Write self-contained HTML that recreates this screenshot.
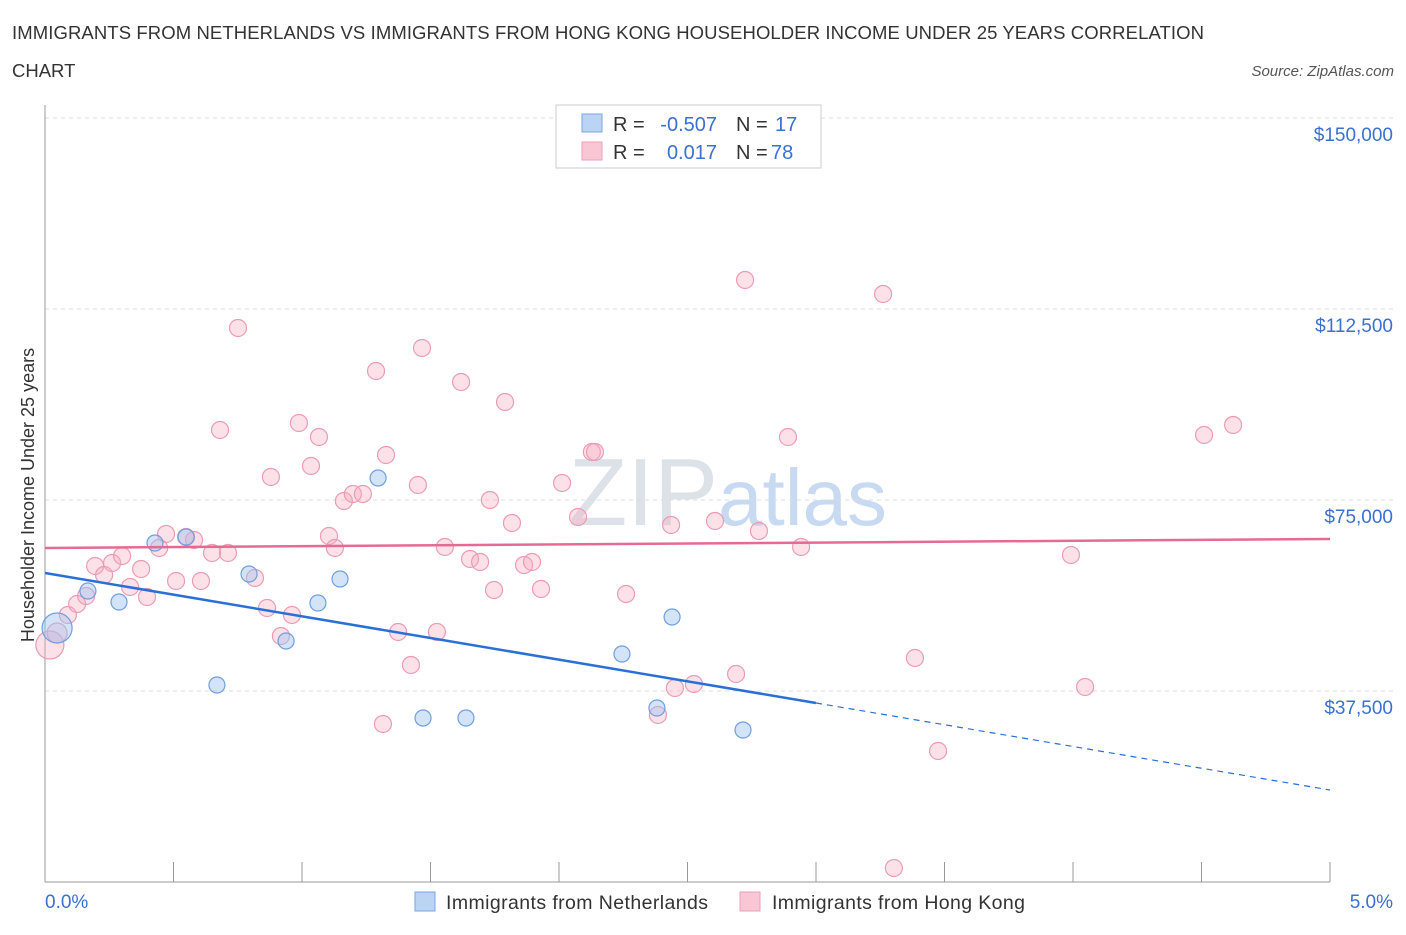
<!DOCTYPE html>
<html><head><meta charset="utf-8"><style>
body{margin:0;background:#fff;font-family:"Liberation Sans",sans-serif;}
svg text{font-family:"Liberation Sans",sans-serif;}
</style></head><body>
<svg width="1406" height="930" xmlns="http://www.w3.org/2000/svg">
<text x="12" y="39" font-size="18.5" fill="#333" textLength="1192">IMMIGRANTS FROM NETHERLANDS VS IMMIGRANTS FROM HONG KONG HOUSEHOLDER INCOME UNDER 25 YEARS CORRELATION</text>
<text x="12" y="77" font-size="18.5" fill="#333">CHART</text>
<text x="1394" y="76" font-size="15" fill="#555" font-style="italic" text-anchor="end">Source: ZipAtlas.com</text>
<text x="718" y="525" font-size="96" fill="#dde1e8" text-anchor="end" font-family="Liberation Serif">ZIP</text>
<text x="718" y="525" font-size="80" fill="#c8daf2">atlas</text>
<g id="grid"></g>
<g id="axes"></g>
<g id="marks"></g>
<g>
<rect x="556" y="105" width="265" height="63" fill="#fff" stroke="#ccc"/>
<rect x="582" y="114" width="20" height="18" fill="#bcd4f4" stroke="#7aa6e3"/>
<rect x="582" y="142" width="20" height="18" fill="#f8c6d4" stroke="#eba0b7"/>
<text x="613" y="131" font-size="20" fill="#333">R =</text>
<text x="717" y="131" font-size="20" fill="#3a70d0" text-anchor="end">-0.507</text>
<text x="736" y="131" font-size="20" fill="#333">N =</text>
<text x="775" y="131" font-size="20" fill="#3a70d0">17</text>
<text x="613" y="159" font-size="20" fill="#333">R =</text>
<text x="717" y="159" font-size="20" fill="#3a70d0" text-anchor="end">0.017</text>
<text x="736" y="159" font-size="20" fill="#333">N =</text>
<text x="771" y="159" font-size="20" fill="#3a70d0">78</text>
</g>
<g>
<rect x="415" y="892" width="20" height="19" fill="#bcd4f4" stroke="#7aa6e3"/>
<text x="446" y="909" font-size="19.5" fill="#333" textLength="262">Immigrants from Netherlands</text>
<rect x="740" y="892" width="20" height="19" fill="#f8c6d4" stroke="#eba0b7"/>
<text x="772" y="909" font-size="19.5" fill="#333" textLength="253">Immigrants from Hong Kong</text>
</g>
<text x="34" y="495" font-size="18" fill="#333" text-anchor="middle" transform="rotate(-90 34 495)">Householder Income Under 25 years</text>
</svg>
<script>
const yTicks=[37500,75000,112500,150000];
const yTickLabels=["$37,500","$75,000","$112,500","$150,000"];
const xTickLabels=["0.0%","5.0%"];
const blueX=[0.047,0.167,0.288,0.428,0.549,0.669,0.794,0.938,1.062,1.148,1.296,1.471,1.638,2.245,2.440,2.381,2.716];
const blueY=[49870,57135,54975,66560,67737,38679,60473,47318,54779,59491,79321,32200,32200,44766,52030,34163,29844];
const blueR=[15,8,8,8,8,8,8,8,8,8,8,8,8,8,8,8,8];
const pinkX=[0.019,0.047,0.089,0.125,0.160,0.195,0.230,0.261,0.300,0.331,0.374,0.397,0.444,0.471,0.510,0.549,0.580,0.607,0.650,0.681,0.712,0.751,0.817,0.864,0.879,0.918,0.961,0.988,1.035,1.066,1.105,1.128,1.163,1.198,1.237,1.288,1.327,1.374,1.315,1.424,1.451,1.467,1.525,1.556,1.619,1.654,1.693,1.731,1.747,1.790,1.817,1.864,1.895,1.930,2.012,2.074,2.128,2.140,2.261,2.385,2.436,2.451,2.525,2.607,2.689,2.724,2.778,2.891,2.942,3.261,3.303,3.385,3.475,3.992,4.047,4.510,4.623];
const pinkY=[46533,48889,52423,54583,56153,62043,60276,62632,64007,57920,61454,55957,65578,68326,59098,67737,67148,59098,64596,88746,64596,108772,59687,53797,79518,48300,52423,90120,81677,87371,67934,65578,74806,76180,76180,100330,83837,49085,31022,42606,77947,104846,49085,65774,98170,63418,62829,75002,57331,94243,70486,62240,62829,57528,78340,71664,84426,84426,56546,32789,70093,38090,38875,70879,40839,118197,68915,87371,65774,115448,2749,43980,25721,64203,38286,87764,89727];
const pinkR=[14,10];
const blueTrendX=[0,3.0,5];
const blueTrendY=[60669,35145,18063];
const pinkTrendX=[0,5];
const pinkTrendY=[65578,67345];

const NS="http://www.w3.org/2000/svg";
const X0=45,X1=1330,Y0=882,Y1=118;
const xs=v=>X0+(v/5)*(X1-X0);
const ys=v=>Y0-(v/150000)*(Y0-Y1);
function mk(tag,attrs,parent){const e=document.createElementNS(NS,tag);for(const k in attrs)e.setAttribute(k,attrs[k]);document.getElementById(parent).appendChild(e);return e;}
yTicks.forEach((t,i)=>{
  const g=mk('line',{x1:X0,x2:1395,y1:ys(t),y2:ys(t),stroke:'#ddd','stroke-dasharray':'4,4'},'grid');
  
  
  const tx=mk('text',{x:1393,y:ys(t)+23,'font-size':19,fill:'#3a70d0','text-anchor':'end'},'axes');
  tx.textContent=yTickLabels[i];
  
  
});
const ax=mk('line',{x1:X0,x2:X0,y1:105,y2:Y0,stroke:'#999'},'axes');


const bx=mk('line',{x1:X0,x2:X1,y1:Y0,y2:Y0,stroke:'#999'},'axes');


for(let i=0;i<=10;i++){
  const t=mk('line',{x1:xs(i*0.5),x2:xs(i*0.5),y1:862,y2:Y0,stroke:'#999'},'axes');
  
  
}
[[0,'start',45],[5,'end',1393]].forEach((p,i)=>{
  const t=mk('text',{x:p[2],y:908,'font-size':19,fill:'#3a70d0','text-anchor':p[1]},'axes');
  t.textContent=xTickLabels[i];
  
  
});
pinkX.forEach((x,i)=>{
  const c=mk('circle',{cx:xs(x),cy:ys(pinkY[i]),r:i<2?pinkR[i]:8.5,fill:'rgba(245,170,192,0.35)',stroke:'#eb9cb4','stroke-width':1.2},'marks');
  
  
});
blueX.forEach((x,i)=>{
  const c=mk('circle',{cx:xs(x),cy:ys(blueY[i]),r:blueR[i],fill:'rgba(160,195,240,0.45)',stroke:'#6f9fe0','stroke-width':1.2},'marks');
  
  
});
const pl=mk('line',{x1:xs(pinkTrendX[0]),y1:ys(pinkTrendY[0]),x2:xs(pinkTrendX[1]),y2:ys(pinkTrendY[1]),stroke:'#e56b95','stroke-width':2.5},'marks');


const bl=mk('line',{x1:xs(blueTrendX[0]),y1:ys(blueTrendY[0]),x2:xs(blueTrendX[1]),y2:ys(blueTrendY[1]),stroke:'#2a6fd6','stroke-width':2.5},'marks');


const bd=mk('line',{x1:xs(blueTrendX[1]),y1:ys(blueTrendY[1]),x2:xs(blueTrendX[2]),y2:ys(blueTrendY[2]),stroke:'#2a6fd6','stroke-width':1.2,'stroke-dasharray':'6,5'},'marks');


</script>
</body></html>
